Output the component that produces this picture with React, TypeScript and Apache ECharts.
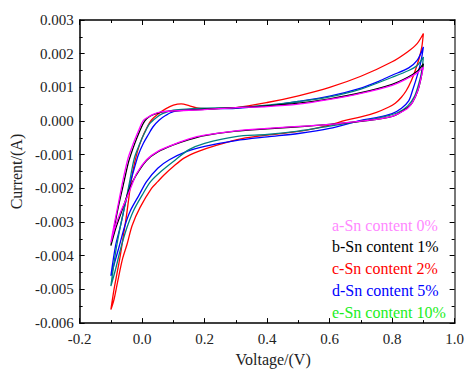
import React, { useEffect, useRef } from "react";
import * as echarts from "echarts";

// ---- Data (Voltage V, Current A) ----
const aForward: [number, number][] = [
  [-0.1, -0.0036], [-0.09, -0.0031], [-0.075, -0.0024], [-0.06, -0.0017], [-0.045, -0.0011],
  [-0.028, -0.00066], [-0.01, -0.00025], [0.004, 0.00002], [0.02, 0.00012], [0.035, 0.0002],
  [0.06, 0.00027], [0.1, 0.0003], [0.2, 0.00034], [0.3, 0.0004], [0.4, 0.00043], [0.5, 0.0005],
  [0.6, 0.00064], [0.7, 0.00082], [0.8, 0.00106], [0.85, 0.00127], [0.88, 0.00143], [0.9, 0.0016],
];
const aReverse: [number, number][] = [
  [0.9, 0.0016], [0.893, 0.0013], [0.882, 0.0009], [0.865, 0.00055], [0.85, 0.00038],
  [0.82, 0.00022], [0.8, 0.00014], [0.75, 0.00005], [0.7, 0.0], [0.6, -0.0001], [0.5, -0.00016],
  [0.4, -0.00022], [0.3, -0.00029], [0.2, -0.00042], [0.15, -0.00053], [0.1, -0.0007],
  [0.05, -0.0009], [0.014, -0.00115], [-0.017, -0.00155], [-0.035, -0.00195], [-0.05, -0.0023],
  [-0.069, -0.0027], [-0.085, -0.0031], [-0.1, -0.0036],
];
const bForward: [number, number][] = [
  [-0.1, -0.0037], [-0.088, -0.0031], [-0.075, -0.0025], [-0.058, -0.0018], [-0.043, -0.0012],
  [-0.025, -0.0007], [-0.008, -0.0003], [0.008, 0.0], [0.025, 0.00014], [0.045, 0.00022],
  [0.07, 0.00028], [0.1, 0.0003], [0.2, 0.00035], [0.3, 0.0004], [0.4, 0.00045], [0.5, 0.00053],
  [0.6, 0.00066], [0.7, 0.00084], [0.8, 0.00109], [0.85, 0.0013], [0.88, 0.00148], [0.9, 0.0017],
];
const bReverse: [number, number][] = [
  [0.9, 0.0017], [0.893, 0.0013], [0.882, 0.0009], [0.865, 0.00055], [0.85, 0.0004],
  [0.82, 0.00022], [0.8, 0.00014], [0.75, 0.00005], [0.7, -0.00001], [0.6, -0.0001], [0.5, -0.00017],
  [0.4, -0.00023], [0.3, -0.0003], [0.2, -0.00043], [0.15, -0.00055], [0.1, -0.00071],
  [0.05, -0.00092], [0.014, -0.00117], [-0.02, -0.00162], [-0.04, -0.002], [-0.055, -0.0024],
  [-0.07, -0.0028], [-0.085, -0.0032], [-0.1, -0.0037],
];
const cForward: [number, number][] = [
  [-0.1, -0.0056], [-0.09, -0.005], [-0.08, -0.0045], [-0.07, -0.004], [-0.06, -0.0034],
  [-0.05, -0.0028], [-0.04, -0.0021], [-0.03, -0.0015], [-0.015, -0.0009], [0.0, -0.0005],
  [0.015, -0.0002], [0.03, 0.00003], [0.05, 0.0002], [0.075, 0.00036], [0.1, 0.00047],
  [0.125, 0.00051], [0.15, 0.00046], [0.175, 0.00039], [0.2, 0.00037], [0.3, 0.0004],
  [0.4, 0.00055], [0.5, 0.00075], [0.6, 0.001], [0.7, 0.00133], [0.8, 0.00176], [0.85, 0.00206],
  [0.88, 0.0023], [0.9, 0.0026],
];
const cReverse: [number, number][] = [
  [0.9, 0.0026], [0.895, 0.0022], [0.887, 0.00188], [0.874, 0.0015], [0.861, 0.00119],
  [0.845, 0.0009], [0.829, 0.0007], [0.81, 0.00053], [0.788, 0.00041], [0.75, 0.00026],
  [0.7, 0.00012], [0.65, 0.00002], [0.6, -0.00012], [0.5, -0.00031], [0.4, -0.00042],
  [0.32, -0.00052], [0.237, -0.00072], [0.18, -0.0009], [0.134, -0.0011], [0.1, -0.00135],
  [0.07, -0.0016], [0.05, -0.0018], [0.03, -0.002], [-0.007, -0.00257], [-0.032, -0.0031],
  [-0.048, -0.00365], [-0.063, -0.0041], [-0.079, -0.0048], [-0.09, -0.0053], [-0.1, -0.0056],
];
const dForward: [number, number][] = [
  [-0.1, -0.0046], [-0.085, -0.0037], [-0.069, -0.0031], [-0.055, -0.0025], [-0.04, -0.0019],
  [-0.025, -0.0014], [-0.012, -0.001], [0.004, -0.00066], [0.02, -0.0004], [0.035, -0.00017],
  [0.055, 0.00003], [0.076, 0.00017], [0.1, 0.00028], [0.15, 0.00034], [0.2, 0.00036],
  [0.3, 0.00038], [0.4, 0.00045], [0.5, 0.00058], [0.6, 0.00074], [0.7, 0.00098], [0.757, 0.00118],
  [0.8, 0.00136], [0.853, 0.00158], [0.88, 0.0018], [0.9, 0.0022],
];
const dReverse: [number, number][] = [
  [0.9, 0.0022], [0.893, 0.0018], [0.882, 0.0014], [0.865, 0.0009], [0.853, 0.0006],
  [0.83, 0.00038], [0.8, 0.00022], [0.75, 0.0001], [0.7, 0.00002], [0.6, -0.00022],
  [0.5, -0.00037], [0.4, -0.00047], [0.3, -0.00058], [0.2, -0.00075], [0.143, -0.0009],
  [0.087, -0.00115], [0.05, -0.0014], [0.014, -0.0018], [-0.01, -0.0022], [-0.038, -0.00267],
  [-0.055, -0.0031], [-0.074, -0.00374], [-0.088, -0.0042], [-0.1, -0.0046],
];
const eForward: [number, number][] = [
  [-0.1, -0.0049], [-0.085, -0.0039], [-0.069, -0.0031], [-0.055, -0.0025], [-0.04, -0.0018],
  [-0.025, -0.0011], [-0.007, -0.00066], [0.008, -0.00035], [0.024, -0.00008], [0.045, 0.0001],
  [0.065, 0.00022], [0.1, 0.00032], [0.15, 0.00036], [0.2, 0.00038], [0.3, 0.0004], [0.4, 0.00047],
  [0.5, 0.00058], [0.6, 0.00072], [0.7, 0.00095], [0.8, 0.0013], [0.853, 0.0015], [0.88, 0.00165],
  [0.9, 0.0019],
];
const eReverse: [number, number][] = [
  [0.9, 0.0019], [0.895, 0.0015], [0.885, 0.0011], [0.872, 0.00074], [0.85, 0.00045],
  [0.82, 0.00026], [0.788, 0.00016], [0.75, 0.00008], [0.7, 0.0], [0.6, -0.00015], [0.5, -0.0003],
  [0.4, -0.0004], [0.3, -0.00046], [0.2, -0.00066], [0.15, -0.00085], [0.1, -0.0012],
  [0.06, -0.0015], [0.027, -0.0018], [0.0, -0.0022], [-0.028, -0.00267], [-0.05, -0.0032],
  [-0.069, -0.0038], [-0.085, -0.0044], [-0.1, -0.0049],
];

const legendLabels = [
  "a-Sn content 0%",
  "b-Sn content 1%",
  "c-Sn content 2%",
  "d-Sn content 5%",
  "e-Sn content 10%",
];
const legendColors = ["#ff88ff", "#000000", "#ff0000", "#0000ff", "#22ee22"];

const FONT = "Liberation Serif";

export default function App() {
  const ref = useRef<HTMLDivElement>(null);
  useEffect(() => {
    if (!ref.current) return;
    const chart = echarts.init(ref.current, undefined, { renderer: "svg" });
    const mk = (name: string, color: string, fwd: [number, number][], rev: [number, number][]) => ({
      name,
      type: "line",
      xAxisIndex: 0,
      yAxisIndex: 0,
      data: fwd.concat(rev),
      symbol: "none",
      smooth: 0.3,
      lineStyle: { color, width: 1.3 },
      silent: true,
    });
    const commonTick = {
      axisTick: { show: true, inside: true, length: 5, lineStyle: { color: "#000", width: 1 } },
      minorTick: { show: true, splitNumber: 2, length: 3, lineStyle: { color: "#000", width: 1 } },
      splitLine: { show: false },
      minorSplitLine: { show: false },
    };
    chart.setOption({
      animation: false,
      backgroundColor: "#ffffff",
      grid: { left: 73, right: 9, top: 20, bottom: 45, containLabel: false },
      xAxis: [
        {
          type: "value",
          min: -0.2,
          max: 1.0,
          interval: 0.2,
          position: "bottom",
          name: "Voltage/(V)",
          nameLocation: "middle",
          nameGap: 27,
          nameTextStyle: { fontFamily: FONT, fontSize: 16, color: "#222", padding: [0, 0, 0, 12] },
          axisLine: { show: true, onZero: false, lineStyle: { color: "#000", width: 1.5 } },
          axisLabel: {
            fontFamily: FONT,
            fontSize: 15,
            color: "#222",
            margin: 8,
            formatter: (v: number) => (Math.abs(v) < 1e-9 ? "0.0" : v.toFixed(1)),
          },
          ...commonTick,
        },
        {
          type: "value",
          min: -0.2,
          max: 1.0,
          interval: 0.2,
          position: "top",
          axisLine: { show: true, onZero: false, lineStyle: { color: "#000", width: 1.5 } },
          axisLabel: { show: false },
          ...commonTick,
        },
      ],
      yAxis: [
        {
          type: "value",
          min: -0.006,
          max: 0.003,
          interval: 0.001,
          position: "left",
          name: "Current/(A)",
          nameLocation: "middle",
          nameGap: 48,
          nameTextStyle: { fontFamily: FONT, fontSize: 16, color: "#222" },
          axisLine: { show: true, onZero: false, lineStyle: { color: "#000", width: 1.5 } },
          axisLabel: {
            fontFamily: FONT,
            fontSize: 15,
            color: "#222",
            margin: 6,
            formatter: (v: number) => (Math.abs(v) < 1e-9 ? "0.000" : v.toFixed(3)),
          },
          ...commonTick,
        },
        {
          type: "value",
          min: -0.006,
          max: 0.003,
          interval: 0.001,
          position: "right",
          axisLine: { show: true, onZero: false, lineStyle: { color: "#777", width: 2 } },
          axisLabel: { show: false },
          ...commonTick,
        },
      ],
      series: [
        mk("c", "#ff0000", cForward, cReverse),
        mk("d", "#0000ff", dForward, dReverse),
        mk("e", "#008080", eForward, eReverse),
        mk("b", "#000000", bForward, bReverse),
        mk("a", "#ff00ff", aForward, aReverse),
      ],
      graphic: legendLabels.map((t, i) => ({
        type: "text",
        left: 332,
        top: 217 + i * 21.8,
        silent: true,
        style: { text: t, fill: legendColors[i], fontFamily: FONT, fontSize: 16 },
      })),
    });
    return () => chart.dispose();
  }, []);
  return (
    <div
      ref={ref}
      style={{ position: "fixed", left: 0, top: 0, width: 467, height: 372, background: "#fff" }}
    />
  );
}
